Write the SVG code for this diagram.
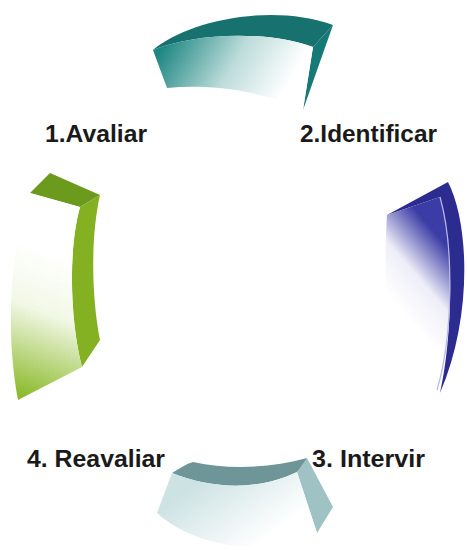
<svg xmlns="http://www.w3.org/2000/svg" width="467" height="555" viewBox="0 0 467 555">
<style>
.lbl{font-family:"Liberation Sans",Arial,sans-serif;font-weight:bold;font-size:24px;fill:#1a1a1a}
</style>
<defs>
<linearGradient id="gTeal" gradientUnits="userSpaceOnUse" x1="160" y1="50" x2="270" y2="115">
<stop offset="0" stop-color="#1d8682"/><stop offset="0.55" stop-color="#bcdcda"/><stop offset="1" stop-color="#ffffff"/>
</linearGradient>
<linearGradient id="gBlue" gradientUnits="userSpaceOnUse" x1="392" y1="300" x2="450" y2="250">
<stop offset="0" stop-color="#ffffff"/><stop offset="0.45" stop-color="#eeeef8"/><stop offset="1" stop-color="#3c3ca6"/>
</linearGradient>
<linearGradient id="gGreen" gradientUnits="userSpaceOnUse" x1="20" y1="395" x2="70" y2="260">
<stop offset="0" stop-color="#8cba2c"/><stop offset="0.6" stop-color="#f2f8e6"/><stop offset="1" stop-color="#ffffff"/>
</linearGradient>
<linearGradient id="gGrey" gradientUnits="userSpaceOnUse" x1="200" y1="480" x2="250" y2="550">
<stop offset="0" stop-color="#cde2e3"/><stop offset="1" stop-color="#ffffff"/>
</linearGradient>
</defs>
<rect width="467" height="555" fill="#ffffff"/>
<g id="connectors"/>
<g id="node-top">
<path d="M153,50 C185,22 270,2 333,25 L313,47 C265,30 195,33 153,50 Z" fill="#17726f"/>
<path d="M333,25 L303,110 L313,47 Z" fill="#157a76"/>
<path d="M153,50 C195,33 265,30 313,47 L303,110 C260,90 210,84 167,88 Z" fill="url(#gTeal)"/>
</g>
<g id="node-right">
<path d="M448,182 C470,225 472,320 440,393 C452,340 455,250 440,197 L387,215 Z" fill="#2b2b90"/>
<path d="M387,215 L440,197 C455,250 452,340 437,390 L393,377 C386,320 384,260 387,215 Z" fill="url(#gBlue)"/>
<path d="M440,197 C455,250 452,340 437,390" fill="none" stroke="#b8b8e8" stroke-width="1.2"/>
</g>
<g id="node-left">
<path d="M30,193 L50,173 L100,195 L80,207 Z" fill="#6c9a1c"/>
<path d="M100,195 C90,240 92,300 100,340 L82,367 C70,320 68,250 80,207 Z" fill="#84b122"/>
<path d="M30,193 L80,207 C68,250 70,320 82,367 L18,400 C5,330 10,250 30,193 Z" fill="url(#gGreen)"/>
</g>
<g id="node-bottom">
<path d="M172,473 C180,468 186,464 193,462 C230,470 270,468 307,458 C304,464 300,469 297,472 C260,490 215,490 172,473 Z" fill="#6e9597"/>
<path d="M307,458 L297,472 L317,533 L333,507 Z" fill="#9fc2c4"/>
<path d="M172,473 C215,490 260,490 297,472 L317,533 C280,556 200,552 157,513 Z" fill="url(#gGrey)"/>
</g>
<g id="labels">
<text class="lbl" x="45" y="142" textLength="102" lengthAdjust="spacingAndGlyphs">1.Avaliar</text>
<text class="lbl" x="300" y="142" textLength="137" lengthAdjust="spacingAndGlyphs">2.Identificar</text>
<text class="lbl" x="27" y="467" textLength="138" lengthAdjust="spacingAndGlyphs">4. Reavaliar</text>
<text class="lbl" x="312" y="467" textLength="113" lengthAdjust="spacingAndGlyphs">3. Intervir</text>
</g>
</svg>
